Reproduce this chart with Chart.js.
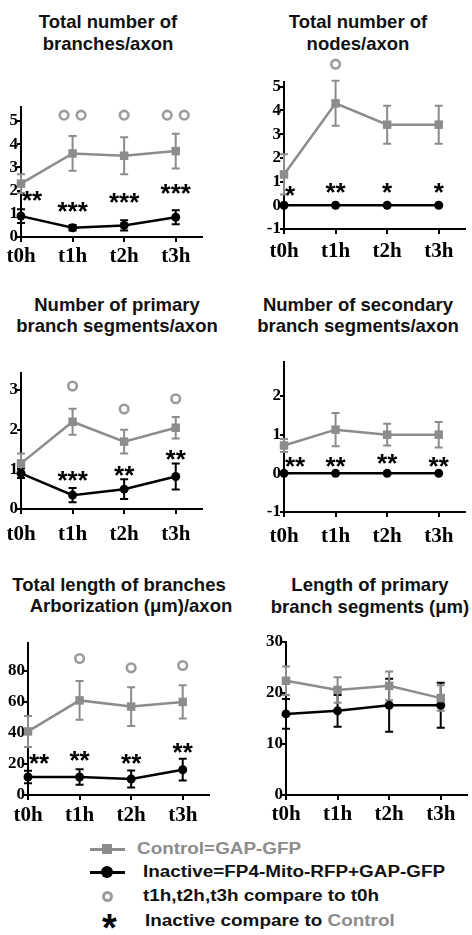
<!DOCTYPE html>
<html>
<head>
<meta charset="utf-8">
<script src="https://cdn.jsdelivr.net/npm/chart.js@4.4.1/dist/chart.umd.min.js"></script>
<style>
html, body { margin: 0; padding: 0; overflow: hidden; background: #fff; }
body { position: relative; width: 472px; height: 935px; font-family: "Liberation Sans", Arial, sans-serif; }
canvas { position: absolute; }
.ttl { position: absolute; font-weight: bold; font-size: 18.5px; line-height: 22px; color: #111; white-space: nowrap; transform: translateX(-50%); }
.leg { position: absolute; font-weight: bold; font-size: 16px; line-height: 20px; color: #111; white-space: nowrap; transform: scaleX(1.18); transform-origin: left center; }
.gray { color: #8c8c8c; }
.mk { position: absolute; }
</style>
</head>
<body>

<div class="ttl" style="left:108px;top:11px">Total number of</div>
<div class="ttl" style="left:108px;top:33px">branches/axon</div>
<div class="ttl" style="left:358px;top:11px">Total number of</div>
<div class="ttl" style="left:358px;top:33px">nodes/axon</div>
<div class="ttl" style="left:117px;top:294px">Number of primary</div>
<div class="ttl" style="left:117px;top:315px">branch segments/axon</div>
<div class="ttl" style="left:358px;top:294px">Number of secondary</div>
<div class="ttl" style="left:358px;top:315px">branch segments/axon</div>
<div class="ttl" style="left:119px;top:574px">Total length of branches</div>
<div class="ttl" style="left:131px;top:595px">Arborization (μm)/axon</div>
<div class="ttl" style="left:370px;top:574px">Length of primary</div>
<div class="ttl" style="left:370px;top:596px">branch segments (μm)</div>

<div class="mk" style="left:90px;top:848px;width:35px;height:2.5px;background:#8c8c8c"></div>
<div class="mk" style="left:102px;top:844px;width:10px;height:10px;background:#8c8c8c"></div>
<div class="leg gray" style="left:137px;top:839px">Control=GAP-GFP</div>

<div class="mk" style="left:90px;top:871px;width:35px;height:2.5px;background:#000"></div>
<div class="mk" style="left:101px;top:866px;width:12px;height:12px;border-radius:50%;background:#000"></div>
<div class="leg" style="left:143px;top:862px">Inactive=FP4-Mito-RFP+GAP-GFP</div>

<div class="mk" style="left:101.5px;top:890.5px;width:5px;height:5px;border:3px solid #9c9c9c;border-radius:50%"></div>
<div class="leg" style="left:143px;top:886px">t1h,t2h,t3h compare to t0h</div>

<div class="mk" style="left:102px;top:910px;font-weight:bold;font-size:38px;line-height:36px;color:#000">*</div>
<div class="leg" style="left:145px;top:911px">Inactive compare to <span class="gray">Control</span></div>

<script>
const timeLabels = ['t0h', 't1h', 't2h', 't3h'];

// Total number of branches/axon
const branchCtrl = [2.3, 3.6, 3.5, 3.7];
const branchCtrlErr = [0.4, 0.75, 0.8, 0.75];
const branchInact = [0.9, 0.4, 0.5, 0.85];
const branchInactErr = [0.3, 0.12, 0.22, 0.3];
const branchRings = [0, 2, 1, 2];
const branchRingY = [0, 5.25, 5.25, 5.25];
const branchStars = [2, 3, 3, 3];
const branchStarY = [1.75, 1.3, 1.7, 2.05];

// Total number of nodes/axon
const nodeCtrl = [1.3, 4.3, 3.4, 3.4];
const nodeCtrlErr = [0.85, 0.95, 0.8, 0.8];
const nodeInact = [0, 0, 0, 0];
const nodeInactErr = [0, 0, 0, 0];
const nodeRings = [0, 1, 0, 0];
const nodeRingY = [0, 5.95, 0, 0];
const nodeStars = [1, 2, 1, 1];
const nodeStarY = [0.6, 0.75, 0.75, 0.72];

// Number of primary branch segments/axon
const primCtrl = [1.15, 2.2, 1.7, 2.05];
const primCtrlErr = [0.25, 0.33, 0.3, 0.27];
const primInact = [0.9, 0.35, 0.5, 0.82];
const primInactErr = [0.12, 0.18, 0.25, 0.33];
const primRings = [0, 1, 1, 1];
const primRingY = [0, 3.1, 2.52, 2.78];
const primStars = [0, 3, 2, 2];
const primStarY = [0, 0.82, 0.95, 1.37];

// Number of secondary branch segments/axon
const secCtrl = [0.72, 1.13, 1.0, 1.0];
const secCtrlErr = [0.17, 0.43, 0.28, 0.33];
const secInact = [0, 0, 0, 0];
const secInactErr = [0, 0, 0, 0];
const secRings = [0, 0, 0, 0];
const secRingY = [0, 0, 0, 0];
const secStars = [2, 2, 2, 2];
const secStarY = [0.3, 0.3, 0.38, 0.3];

// Total length of branches, arborization (um)/axon
const lenCtrl = [41, 61, 57, 60];
const lenCtrlErr = [10, 12.5, 12.5, 10.7];
const lenInact = [11.6, 11.6, 10.3, 16.3];
const lenInactErr = [4, 5, 5.5, 7];
const lenRings = [0, 1, 1, 1];
const lenRingY = [0, 88, 82, 83.5];
const lenStars = [2, 2, 2, 2];
const lenStarY = [23, 25, 23, 30];

// Length of primary branch segments (um)
const segCtrl = [22.4, 20.6, 21.4, 19.0];
const segCtrlErr = [2.8, 2.5, 2.8, 2.5];
const segInact = [15.9, 16.5, 17.6, 17.6];
const segInactErr = [2.9, 3.1, 5.2, 4.4];

const GRAY = '#8c8c8c';
const RING = '#9c9c9c';
const Y_W = 34, X_H = 46, PAD_T = 26, PAD_R = 1, SPAN = 186, UNIT = 53;
const SERIF = '"Liberation Serif", "Times New Roman", Tinos, "DejaVu Serif", serif';

const panels = [
  { axisX: 21, top: 107, bottom: 237, yMin: 0, yMax: 5.6, step: 1, gap: 21,
    ctrl: branchCtrl, ctrlErr: branchCtrlErr, inact: branchInact, inactErr: branchInactErr,
    rings: branchRings, ringY: branchRingY, stars: branchStars, starY: branchStarY },
  { axisX: 284, top: 82, bottom: 229, yMin: -1, yMax: 5.2, step: 1, gap: 24,
    ctrl: nodeCtrl, ctrlErr: nodeCtrlErr, inact: nodeInact, inactErr: nodeInactErr,
    rings: nodeRings, ringY: nodeRingY, stars: nodeStars, starY: nodeStarY },
  { axisX: 21, top: 373, bottom: 509, yMin: 0, yMax: 3.43, step: 1, gap: 27,
    ctrl: primCtrl, ctrlErr: primCtrlErr, inact: primInact, inactErr: primInactErr,
    rings: primRings, ringY: primRingY, stars: primStars, starY: primStarY },
  { axisX: 284, top: 362, bottom: 512, yMin: -1, yMax: 2.88, step: 1, gap: 26,
    ctrl: secCtrl, ctrlErr: secCtrlErr, inact: secInact, inactErr: secInactErr,
    rings: secRings, ringY: secRingY, stars: secStars, starY: secStarY },
  { axisX: 28, top: 643, bottom: 795, yMin: 0, yMax: 98, step: 20, gap: 22,
    ctrl: lenCtrl, ctrlErr: lenCtrlErr, inact: lenInact, inactErr: lenInactErr,
    rings: lenRings, ringY: lenRingY, stars: lenStars, starY: lenStarY },
  { axisX: 286, top: 642, bottom: 795, yMin: 0, yMax: 30, step: 10, gap: 21,
    ctrl: segCtrl, ctrlErr: segCtrlErr, inact: segInact, inactErr: segInactErr,
    rings: [], ringY: [], stars: [], starY: [] },
];

function marks(p) {
  return {
    id: 'marks',
    beforeDatasetsDraw(chart) {
      const { ctx, scales: { x, y } } = chart;
      const sets = [[p.inact, p.inactErr, '#000'], [p.ctrl, p.ctrlErr, GRAY]];
      ctx.save();
      ctx.lineWidth = 2;
      sets.forEach(([vals, errs, col]) => {
        ctx.strokeStyle = col;
        vals.forEach((v, i) => {
          if (!errs[i]) return;
          const px = x.getPixelForValue(i);
          const hi = y.getPixelForValue(v + errs[i]);
          const lo = y.getPixelForValue(v - errs[i]);
          ctx.beginPath();
          ctx.moveTo(px, hi); ctx.lineTo(px, lo);
          ctx.moveTo(px - 4, hi); ctx.lineTo(px + 4, hi);
          ctx.moveTo(px - 4, lo); ctx.lineTo(px + 4, lo);
          ctx.stroke();
        });
      });
      ctx.restore();
    },
    afterDatasetsDraw(chart) {
      const { ctx, scales: { x, y } } = chart;
      ctx.save();
      ctx.strokeStyle = RING;
      ctx.lineWidth = 2.6;
      p.rings.forEach((n, i) => {
        if (!n) return;
        const px = x.getPixelForValue(i);
        const py = y.getPixelForValue(p.ringY[i]);
        const offs = n === 2 ? [-8.5, 8.5] : [0];
        offs.forEach(o => {
          ctx.beginPath();
          ctx.arc(px + o, py, 4.3, 0, Math.PI * 2);
          ctx.stroke();
        });
      });
      ctx.fillStyle = '#000';
      ctx.font = 'bold 26px "Liberation Sans", Arial, sans-serif';
      ctx.textBaseline = 'alphabetic';
      p.stars.forEach((n, i) => {
        if (!n) return;
        const txt = '*'.repeat(n);
        const m = ctx.measureText(txt);
        let px = x.getPixelForValue(i);
        ctx.textAlign = 'center';
        if (i === 0) { ctx.textAlign = 'left'; px += 1; }
        const py = y.getPixelForValue(p.starY[i]) + (m.actualBoundingBoxAscent - m.actualBoundingBoxDescent) / 2;
        ctx.fillText(txt, px, py);
      });
      ctx.restore();
    }
  };
}

panels.forEach(p => {
  const cv = document.createElement('canvas');
  const w = Y_W + SPAN + PAD_R;
  const h = PAD_T + (p.bottom - p.top) + X_H;
  cv.width = w; cv.height = h;
  cv.style.width = w + 'px'; cv.style.height = h + 'px';
  cv.style.left = (p.axisX - Y_W) + 'px';
  cv.style.top = (p.top - PAD_T) + 'px';
  document.body.appendChild(cv);

  new Chart(cv, {
    type: 'line',
    data: {
      datasets: [
        {
          label: 'Control=GAP-GFP',
          data: p.ctrl.map((v, i) => ({ x: i, y: v })),
          borderColor: GRAY, backgroundColor: GRAY, borderWidth: 2.5,
          pointStyle: 'rect', pointRadius: 6, pointBorderWidth: 0, clip: false,
        },
        {
          label: 'Inactive=FP4-Mito-RFP+GAP-GFP',
          data: p.inact.map((v, i) => ({ x: i, y: v })),
          borderColor: '#000', backgroundColor: '#000', borderWidth: 2.5,
          pointStyle: 'circle', pointRadius: 4.5, pointBorderWidth: 0, clip: false,
        },
      ],
    },
    options: {
      responsive: false,
      animation: false,
      layout: { padding: { top: PAD_T, right: PAD_R, left: 0, bottom: 0 } },
      plugins: { legend: { display: false }, tooltip: { enabled: false } },
      scales: {
        x: {
          type: 'linear', min: 0, max: SPAN / UNIT,
          afterFit: s => { s.height = X_H; },
          border: { color: '#000', width: 2 },
          grid: { drawOnChartArea: false, tickLength: 5, color: '#000', lineWidth: 2 },
          ticks: {
            stepSize: 1, includeBounds: false, autoSkip: false, maxRotation: 0,
            color: '#000', padding: p.gap - 19,
            font: { family: SERIF, weight: 'bold', size: 21 },
            callback: v => timeLabels[v] ?? '',
          },
        },
        y: {
          min: p.yMin, max: p.yMax,
          afterFit: s => { s.width = Y_W; },
          border: { color: '#000', width: 2 },
          grid: { drawOnChartArea: false, tickLength: 4, color: '#000', lineWidth: 2 },
          ticks: {
            stepSize: p.step, includeBounds: false, color: '#000', padding: -1,
            font: { family: SERIF, weight: 'bold', size: 17 },
          },
        },
      },
    },
    plugins: [marks(p)],
  });
});
</script>
</body>
</html>
